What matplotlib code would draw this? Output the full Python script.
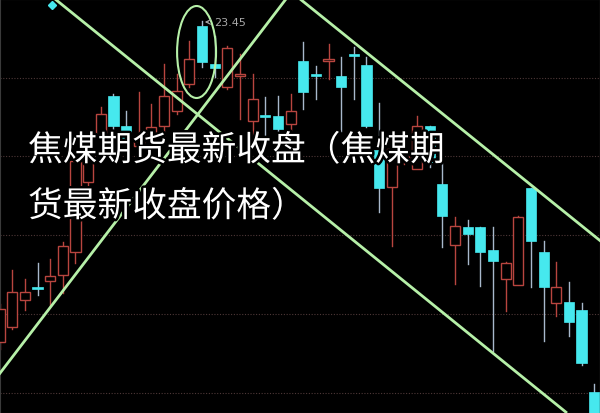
import matplotlib
matplotlib.use("Agg")
import matplotlib.pyplot as plt
import matplotlib.patheffects as pe
from matplotlib.patches import Rectangle, Ellipse

# K线数据 (价格)
opens = [20.25, 20.40, 20.67, 20.80, 20.86, 20.92, 21.15, 21.85, 22.31, 22.71,
         22.41, 22.21, 22.31, 22.41, 22.56, 22.83, 23.41, 23.03, 22.80, 22.91,
         22.46, 22.51, 22.51, 22.43, 23.06, 22.93, 23.06, 22.91, 23.13, 23.02,
         22.17, 21.80, 22.08, 21.98, 22.41, 21.83, 21.22, 21.40, 21.40, 21.17,
         20.88, 20.82, 21.79, 21.15, 20.64, 20.65, 20.57, 19.75]
closes = [20.58, 20.75, 20.75, 20.78, 20.91, 21.21, 22.06, 22.08, 22.53, 22.41,
          22.28, 22.26, 22.40, 22.71, 22.76, 23.08, 23.05, 22.99, 23.19, 22.93,
          22.68, 22.50, 22.38, 22.56, 22.75, 22.91, 23.08, 22.80, 23.11, 22.41,
          21.79, 22.18, 22.16, 22.41, 22.05, 21.51, 21.41, 21.33, 21.15, 21.06,
          21.04, 21.50, 21.26, 20.80, 20.80, 20.45, 20.04, 19.48]
highs = [20.63, 20.97, 20.88, 21.04, 21.08, 21.25, 22.13, 22.18, 22.60, 22.73,
         22.56, 22.75, 22.63, 23.03, 22.93, 23.26, 23.46, 23.31, 23.21, 23.13,
         22.93, 22.70, 22.71, 22.73, 23.25, 23.01, 23.23, 23.10, 23.20, 23.10,
         22.64, 22.23, 22.23, 22.51, 22.41, 22.05, 21.50, 21.47, 21.40, 21.40,
         21.05, 21.51, 21.79, 21.26, 21.05, 20.85, 20.64, 19.83]
lows = [20.18, 20.38, 20.57, 20.72, 20.61, 20.74, 21.04, 21.78, 22.05, 22.36,
        22.26, 22.05, 22.21, 22.31, 22.53, 22.80, 23.00, 22.90, 22.78, 22.48,
        22.23, 22.21, 22.35, 22.28, 22.58, 22.68, 22.88, 22.36, 22.68, 22.40,
        21.55, 21.21, 22.03, 21.98, 22.00, 21.20, 20.83, 21.03, 20.81, 20.16,
        20.56, 20.82, 20.80, 20.26, 20.51, 20.31, 20.02, 19.48]

grid_levels = [22.89, 22.11, 21.32, 20.53, 19.74]

# 趋势线 (K线序号, 价格)
line_a = [(4.38, 23.68), (44.85, 19.54)]
line_b = [(-0.2, 19.90), (22.64, 23.68)]
line_c = [(23.75, 23.68), (47.6, 21.25)]
circle_center = (15.57, 23.15)
high_mark = (16.0, 23.45)
low_mark = (4.14, 23.62)

title_1 = "焦煤期货最新收盘（焦煤期"
title_2 = "货最新收盘价格）"

red = "#b8453f"
cyan = "#46e8ee"
green = "#b6f0a8"

fig = plt.figure(figsize=(6, 4.14), dpi=100, facecolor="black")
ax = fig.add_axes([0, 0, 1, 1], facecolor="black")
ax.set_xlim(0.032, 47.46)
ax.set_ylim(19.54, 23.68)

for g in grid_levels:
    ax.axhline(g, color="#4e3838", lw=0.8, ls=(0, (1, 1.5)), zorder=1)

w = 0.8
for i, (o, c, h, l) in enumerate(zip(opens, closes, highs, lows)):
    top, bot = max(o, c), min(o, c)
    hgt = max(top - bot, 0.015)
    if c >= o:
        ax.plot([i, i], [top, h], color=red, lw=1, zorder=2)
        ax.plot([i, i], [l, bot], color=red, lw=1, zorder=2)
        ax.add_patch(Rectangle((i - w / 2, bot), w, hgt, facecolor="black",
                               edgecolor=red, lw=1, zorder=3))
    else:
        ax.plot([i, i], [l, h], color="#a8b8cc", lw=1, zorder=2)
        ax.add_patch(Rectangle((i - w / 2, bot), w, hgt, facecolor=cyan,
                               edgecolor=cyan, lw=0.5, zorder=3))

for ln in (line_a, line_b, line_c):
    xs, ys = zip(*ln)
    ax.plot(xs, ys, color=green, lw=2, zorder=4, solid_capstyle="butt")

ax.add_patch(Ellipse(circle_center, 3.08, 0.92, fill=False, edgecolor=green,
                     lw=1.5, zorder=4))

ax.plot(*low_mark, marker="D", ms=4, color=cyan, zorder=5)
ax.annotate("23.45", xy=high_mark, xytext=(high_mark[0] + 0.95, high_mark[1]),
            color="#a8a8a8", fontsize=8, va="center", ha="left",
            arrowprops=dict(arrowstyle="->", color="#a8a8a8", lw=0.8), zorder=5)

for s in ax.spines.values():
    s.set_color("#3a3a3a")
ax.spines["right"].set_color("#9a9a9a")
ax.set_xticks([])
ax.set_yticks([])

stroke = [pe.withStroke(linewidth=3.5, foreground="black")]
fig.text(28 / 600, 1 - 152 / 414, title_1, color="white", fontsize=25,
         family=["Noto Sans CJK SC", "DejaVu Sans"],
         va="center", ha="left", path_effects=stroke)
fig.text(28 / 600, 1 - 208 / 414, title_2, color="white", fontsize=25,
         family=["Noto Sans CJK SC", "DejaVu Sans"],
         va="center", ha="left", path_effects=stroke)

fig.savefig("out.png", dpi=100, facecolor="black")
